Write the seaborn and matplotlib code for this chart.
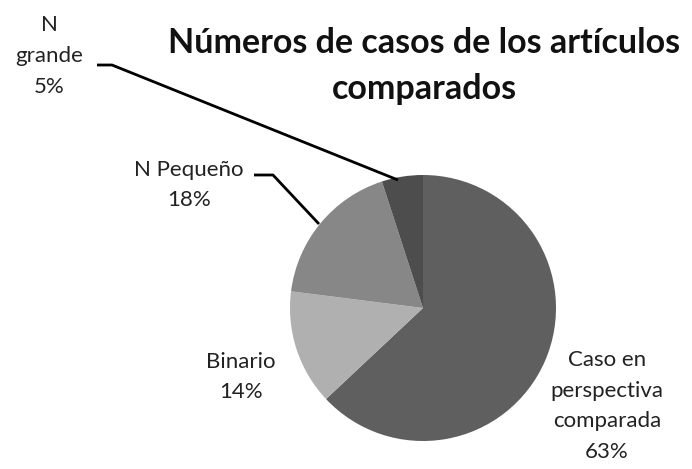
import seaborn as sns
import matplotlib.pyplot as plt

# data
categorias = ['Caso en\nperspectiva\ncomparada', 'Binario', 'N Pequeño', 'N\ngrande']
porcentajes = [63, 14, 18, 5]
colores = ['#5f5f5f', '#b0b0b0', '#878787', '#4d4d4d']
titulo = 'Números de casos de los artículos\ncomparados'

sns.set_style('white')
plt.rcParams['font.family'] = ['Lato', 'DejaVu Sans']

W, H = 692, 469
fig = plt.figure(figsize=(W / 100, H / 100), dpi=100)
ax = fig.add_axes([0, 0, 1, 1])

# pie centre / radius in pixel units (y measured from the bottom)
cx, cy, r = 423, H - 308, 133
ax.pie(porcentajes, colors=colores, startangle=90, counterclock=False,
       center=(cx, cy), radius=r, frame=True,
       wedgeprops=dict(linewidth=0))
ax.set_xlim(0, W)
ax.set_ylim(0, H)
ax.set_aspect('equal')
ax.axis('off')

ax.text(424, H - 66, titulo, ha='center', va='center', fontsize=24.5,
        fontweight='bold', color='#111111', linespacing=1.55)

# data labels: (x, y) in image pixels
pos = [(607, 406), (241, 377), (189, 185), (49, 56)]
for cat, pct, (x, y) in zip(categorias, porcentajes, pos):
    ax.text(x, H - y, f'{cat}\n{pct}%', ha='center', va='center',
            fontsize=16, color='#222222', linespacing=1.68)

# leader lines
ax.plot([97, 112, 398], [H - 65, H - 65, H - 180], color='black', lw=2,
        solid_capstyle='butt')
ax.plot([254, 273, 319], [H - 175, H - 175, H - 224], color='black', lw=2,
        solid_capstyle='butt')

fig.savefig('out.png', dpi=100)
